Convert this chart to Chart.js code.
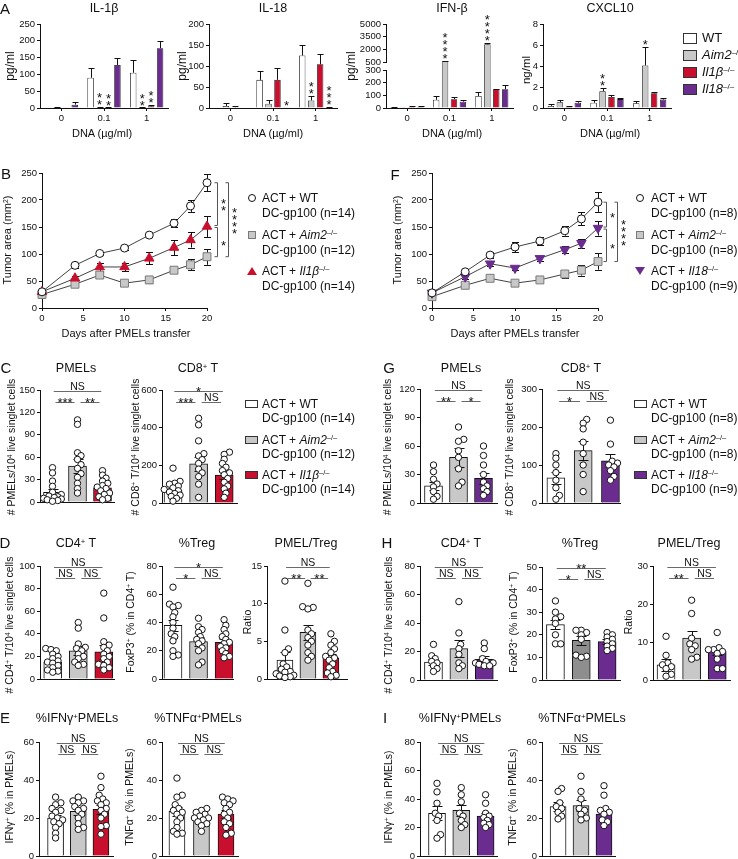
<!DOCTYPE html>
<html lang="en">
<head>
<meta charset="UTF-8">
<title>AIM2 / IL-1β / IL-18 figure</title>
<style>
  body { margin: 0; background: #fff; }
  #fig { position: relative; width: 738px; height: 859px; overflow: hidden;
         font-family: 'Liberation Sans', Arial, sans-serif; color: #111; }
  #fig canvas { position: absolute; }
  .t { position: absolute; white-space: nowrap; transform: translate(-50%, -50%); line-height: 1; }
  .v { position: absolute; white-space: nowrap; transform: translate(-50%, -50%) rotate(-90deg); line-height: 1; font-size: 10.5px; }
  .ttl { font-size: 12.5px; }
  .let { font-size: 15px; }
  .leg { position: absolute; white-space: nowrap; font-size: 12px; line-height: 15px; }
  .sw { position: absolute; box-sizing: border-box; }
  sup { font-size: 0.62em; position: relative; top: -0.45em; line-height: 0; vertical-align: baseline; }
</style>
</head>
<body>
<div id="fig"></div>
<script src="https://cdn.jsdelivr.net/npm/chart.js"></script>
<script>
// ---------- A: cytokines; series order WT, Aim2-/-, Il1b-/-, Il18-/-; groups = DNA dose
const doses = ['0', '0.1', '1'];
const il1bMean = [[0.5, 90, 105], [3, 1, 1], [0.5, 1, 5], [10, 128, 178]];
const il1bErr  = [[0, 28, 38], [1, 1, 0.5], [0, 0.5, 5], [7, 20, 20]];
const il18Mean = [[1, 67, 125], [5, 10, 18], [2, 67, 104], [0, 0.5, 1]];
const il18Err  = [[0, 20, 25], [7, 8, 10], [2, 28, 25], [0, 0, 0.5]];
const ifnbMean = [[2, 65, 95], [5, 600, 2600], [10, 70, 148], [10, 50, 148]];
const ifnbErr  = [[2, 28, 30], [3, 60, 120], [5, 15, 5], [5, 10, 37]];
const cxclMean = [[0.2, 0.5, 0.45], [0.55, 1.6, 4.05], [0.12, 1.05, 1.4], [0.5, 0.85, 0.8]];
const cxclErr  = [[0.15, 0.3, 0.2], [0.2, 0.3, 1.75], [0.08, 0.15, 0.15], [0.2, 0.15, 0.2]];
const ifnbUpperTicks = [500, 2000, 3500, 5000];
// stars: [series, dose, number of asterisks]
const il1bStars = [[1, 1, 2], [2, 1, 2], [1, 2, 2], [2, 2, 2]];
const il18Stars = [[3, 1, 1], [1, 2, 2], [3, 2, 3]];
const ifnbStars = [[1, 1, 4], [1, 2, 4]];
const cxclStars = [[1, 1, 2], [1, 2, 1]];

// ---------- B / F: tumor growth (mm2)
const days = [0, 4, 7, 10, 13, 16, 18, 20];
const bWT = [30, 79, 101, 111, 135, 157, 189, 232];
const bWTe = [4, 4, 3, 3, 4, 7, 11, 16];
const bAim2 = [25, 44, 61, 46, 52, 70, 80, 95];
const bAim2e = [4, 4, 5, 4, 5, 6, 10, 15];
const bIl1b = [30, 55, 76, 76, 92, 112, 126, 151];
const bIl1be = [4, 5, 8, 8, 11, 14, 14, 20];
const fWT = [28, 67, 98, 113, 124, 143, 165, 196];
const fWTe = [4, 6, 5, 10, 7, 9, 12, 18];
const fAim2 = [21, 42, 55, 46, 52, 63, 70, 86];
const fAim2e = [4, 4, 5, 5, 4, 7, 10, 15];
const fIl18 = [28, 58, 82, 74, 92, 108, 120, 148];
const fIl18e = [4, 5, 4, 4, 5, 6, 8, 14];

// ---------- C-E (WT, Aim2-/-, Il1b-/-) and G-I (WT, Aim2-/-, Il18-/-): individual mice
const cPmel = [[46, 39, 28, 21, 13, 10, 8, 7, 6, 5, 4, 3, 2, 1],
               [110, 104, 66, 62, 57, 50, 45, 38, 33, 25, 18, 12],
               [42, 36, 32, 28, 25, 22, 20, 18, 15, 12, 10, 7, 5, 3]];
const cPmelMean = [13, 48, 19], cPmelSem = [5, 9, 4];
const cCd8 = [[185, 115, 105, 100, 90, 80, 72, 65, 58, 50, 42, 35, 25, 10],
              [450, 415, 330, 262, 250, 230, 210, 180, 160, 140, 100, 30],
              [270, 258, 232, 210, 190, 172, 160, 150, 130, 110, 90, 75, 52, 30]];
const cCd8Mean = [68, 208, 148], cCd8Sem = [12, 38, 20];
const gPmel = [[40, 33, 25, 20, 17, 12, 7, 4],
               [80, 67, 65, 55, 48, 36, 22, 18],
               [60, 50, 40, 30, 22, 18, 15, 12, 8]];
const gPmelMean = [18, 48, 26], gPmelSem = [4, 10, 6];
const gCd8 = [[130, 118, 100, 80, 60, 40, 20, 10],
              [220, 210, 195, 160, 130, 100, 75, 30],
              [218, 155, 110, 105, 100, 95, 85, 70, 60]];
const gCd8Mean = [66, 138, 111], gCd8Sem = [15, 25, 17];
const dCd4 = [[27, 26, 25, 22, 20, 18, 16, 15, 14, 12, 10, 8, 7, 6],
              [50, 45, 31, 28, 27, 25, 22, 20, 18, 15, 13, 12],
              [76, 54, 33, 30, 28, 25, 22, 20, 18, 15, 13, 12, 10, 8]];
const dCd4Mean = [15, 25, 24], dCd4Sem = [2, 4, 6];
const dTreg = [[65, 53, 52, 51, 47, 44, 40, 36, 32, 30, 27, 20, 17, 16],
               [43, 37, 35, 33, 30, 28, 27, 25, 22, 20, 12, 10],
               [42, 38, 35, 32, 30, 28, 26, 25, 23, 22, 20, 18, 16, 15]];
const dTregMean = [38, 26.5, 26], dTregSem = [4, 3, 2.5];
const dRatio = [[13, 6.5, 4, 3.5, 2, 1.6, 1.3, 1, 0.9, 0.7, 0.5, 0.4, 0.3, 0.2],
                [12.7, 9.6, 9.5, 9.3, 6.5, 6, 5.5, 5, 4.5, 3.5, 3, 2.5],
                [6, 5, 4.5, 4, 3.5, 3, 2.8, 2.5, 2, 1.5, 1, 0.8, 0.5, 0.3]];
const dRatioMean = [2.5, 6.2, 2.8], dRatioSem = [1.1, 1.0, 0.5];
const hCd4 = [[25, 17, 15, 13, 12, 10, 8, 6],
              [55, 33, 25, 22, 18, 12, 10, 8],
              [26, 22, 15, 13, 12, 12, 11, 10, 10]];
const hCd4Mean = [12.5, 22, 14.5], hCd4Sem = [2, 6, 2];
const hTreg = [[35, 30, 28, 27, 25, 20, 16, 16],
               [22, 22, 21, 20, 18, 11, 10.5, 10],
               [21, 20, 19, 18, 17, 16, 15, 14, 13]];
const hTregMean = [24.5, 17.5, 17], hTregSem = [2, 2, 1];
const hRatio = [[11.5, 6.5, 4.5, 4, 3.5, 3, 1.5, 1],
                [21, 17.5, 11, 9.5, 9, 8, 6, 5.5],
                [12.5, 8.5, 8, 8, 7.5, 7, 5.5, 3, 3]];
const hRatioMean = [4, 11, 7.5], hRatioSem = [1.5, 2, 1];
const eIfng = [[31, 28, 27, 25, 24, 23, 21, 20, 19, 18, 17, 15, 12, 9.5],
               [31, 29, 29, 28, 26, 25, 24, 22, 20, 17, 15, 14],
               [42, 36, 32, 30, 29, 28, 27, 25, 24, 22, 20, 16, 15.5, 11.5]];
const eIfngMean = [20, 23.5, 24.5], eIfngSem = [1.8, 2, 2.5];
const eTnfa = [[41, 32, 31, 27, 25, 24, 23, 22, 20, 18, 15, 13, 12, 11.5],
               [25, 24, 23, 22, 21, 20, 20, 19, 18, 17, 16, 13],
               [31, 30, 29, 28, 27, 25, 23, 22, 20, 18, 17, 15, 12, 11]];
const eTnfaMean = [23.5, 19.5, 22], eTnfaSem = [2.5, 1.2, 2];
const iIfng = [[51, 45, 37, 30, 28, 25, 15, 12.5],
               [48, 43, 38, 30, 28, 25, 22, 20],
               [43, 37, 30, 28, 27, 25, 23, 22, 20]];
const iIfngMean = [30, 32, 28], iIfngSem = [5, 4, 2.5];
const iTnfa = [[35.5, 34, 28, 26, 25, 23, 21, 19.5],
               [42, 34, 30, 25, 24, 22, 20, 19],
               [37, 32, 25, 24, 23, 22, 19, 18, 16]];
const iTnfaMean = [26, 26.5, 22], iTnfaSem = [2.5, 3, 2.5];
// significance: [group a, group b, label, row]
const sigC1 = [[0, 2, 'NS', 0], [0, 1, '***', 1], [1, 2, '**', 1]];
const sigC2 = [[0, 2, '*', 0], [0, 1, '***', 1], [1, 2, 'NS', 1]];
const sigG1 = [[0, 2, 'NS', 0], [0, 1, '**', 1], [1, 2, '*', 1]];
const sigG2 = [[0, 2, 'NS', 0], [0, 1, '*', 1], [1, 2, 'NS', 1]];
const sigNS = [[0, 2, 'NS', 0], [0, 1, 'NS', 1], [1, 2, 'NS', 1]];
const sigDTreg = [[0, 2, '*', 0], [0, 1, '*', 1], [1, 2, 'NS', 1]];
const sigDRatio = [[0, 2, 'NS', 0], [0, 1, '**', 1], [1, 2, '**', 1]];
const sigHTreg = [[0, 2, '**', 0], [0, 1, '*', 1], [1, 2, 'NS', 1]];
const sigHRatio = [[0, 2, 'NS', 0], [0, 1, '**', 1], [1, 2, 'NS', 1]];

// ---------- colours
const WHITE = '#ffffff', GRAY = '#c8c8c8', DGRAY = '#8e8e8e', RED = '#c8102e', PURPLE = '#6a2c8f';
const cytoCols = [WHITE, GRAY, RED, PURPLE];
const FONT = "'Liberation Sans', Arial, sans-serif";

Chart.defaults.font.family = FONT;
Chart.defaults.color = '#111';

const fig = document.getElementById('fig');
const PADL = 36, PADT = 36, PADB = 30, YW = 30;

// canvas placed so that its chart area is exactly (L, T, W, H) on the page
function mk(L, T, W, H, cfg, xh, padR) {
  const PADR = padR || 14;
  const cv = document.createElement('canvas');
  const cw = W + PADL + PADR, ch = H + PADT + PADB;
  cv.width = cw; cv.height = ch;
  cv.style.cssText = `left:${L - PADL}px;top:${T - PADT}px;width:${cw}px;height:${ch}px`;
  fig.appendChild(cv);
  const o = cfg.options;
  o.responsive = false; o.animation = false; o.devicePixelRatio = 1;
  o.layout = { padding: { left: PADL - YW, top: PADT, right: PADR, bottom: PADB - xh } };
  o.scales.y.afterFit = s => { s.width = YW; };
  o.scales.x.afterFit = s => { s.height = xh; };
  o.plugins = { legend: { display: false }, tooltip: { enabled: false } };
  return new Chart(cv, cfg);
}

function yAxis(min, max, step, ticks) {
  const y = { min, max,
    ticks: { stepSize: step, font: { size: 9.5 }, color: '#111', padding: 2, autoSkip: false, callback: v => String(v) },
    grid: { drawOnChartArea: false, drawTicks: true, tickLength: 3, color: '#111' },
    border: { display: true, color: '#111' } };
  if (ticks) y.afterBuildTicks = s => { s.ticks = ticks.map(v => ({ value: v })); };
  return y;
}

function errPlugin(specs, when) {
  function draw(chart, only) {
    const ctx = chart.ctx, ys = chart.scales.y, area = chart.chartArea;
    ctx.save();
    ctx.strokeStyle = '#111'; ctx.lineWidth = 1;
    specs.forEach(sp => {
      if (only != null && sp.ds !== only) return;
      const meta = chart.getDatasetMeta(sp.ds);
      const data = chart.data.datasets[sp.ds].data;
      meta.data.forEach((el, i) => {
        const e = sp.err[i];
        if (!e) return;
        const v = typeof data[i] === 'object' ? data[i].y : data[i];
        if (v + e < ys.min || v + e > ys.max) return;
        const x = Math.round(el.x) + 0.5;
        const yt = Math.round(ys.getPixelForValue(v + e)) + 0.5;
        const yb = Math.min(ys.getPixelForValue(sp.up ? v : v - e), area.bottom);
        const h = sp.cap / 2;
        ctx.beginPath();
        ctx.moveTo(x, yb); ctx.lineTo(x, yt);
        ctx.moveTo(x - h, yt); ctx.lineTo(x + h, yt);
        if (!sp.up) { const y2 = Math.round(yb) + 0.5; ctx.moveTo(x - h, y2); ctx.lineTo(x + h, y2); }
        ctx.stroke();
      });
    });
    ctx.restore();
  }
  if (when === 'before') return { id: 'errB', beforeDatasetsDraw: c => draw(c) };
  if (when === 'bar0') return { id: 'errD', afterDatasetDraw: (c, a) => { if (a.index === 0) draw(c, 0); } };
  return { id: 'errA', afterDatasetsDraw: c => draw(c) };
}

// stacked asterisks above a bar
function starPlugin(list, errs) {
  return { id: 'stars', afterDatasetsDraw(chart) {
    const ctx = chart.ctx, ys = chart.scales.y;
    ctx.save(); ctx.fillStyle = '#111'; ctx.font = '13px ' + FONT;
    ctx.textAlign = 'center'; ctx.textBaseline = 'alphabetic';
    list.forEach(([g, d, n]) => {
      const el = chart.getDatasetMeta(g).data[d];
      const v = chart.data.datasets[g].data[d] + (errs[g][d] || 0);
      const y = Math.min(ys.getPixelForValue(v), chart.chartArea.bottom) - 2;
      for (let k = 0; k < n; k++) {
        const cy = y - 3.5 - k * 7;
        ctx.fillText('*', el.x, cy + 0.58 * 13);
      }
    });
    ctx.restore();
  }};
}

// NS / asterisk comparison lines above dot plots
function sigPlugin(list) {
  return { id: 'sig', afterDraw(chart) {
    const ctx = chart.ctx, top = chart.chartArea.top;
    const bars = chart.getDatasetMeta(0).data;
    ctx.save();
    list.forEach(([a, b, txt, row]) => {
      const pa = bars[a].x, pb = bars[b].x;
      const s = (pb - pa) / (b - a);
      let x1, x2;
      if (row === 0) { x1 = pa + 0.05 * s; x2 = pb - 0.05 * s; }
      else { const m = (pa + pb) / 2; x1 = m - 0.38 * s; x2 = m + 0.38 * s; }
      const y = Math.round(top + (row === 0 ? 1 : 12)) + 0.5;
      ctx.strokeStyle = '#6a6a6a'; ctx.lineWidth = 1;
      ctx.beginPath(); ctx.moveTo(x1, y); ctx.lineTo(x2, y); ctx.stroke();
      ctx.fillStyle = '#111'; ctx.textAlign = 'center'; ctx.textBaseline = 'alphabetic';
      if (txt === 'NS') { ctx.font = '10.5px ' + FONT; ctx.fillText(txt, (x1 + x2) / 2, y - 2); }
      else { ctx.font = '13px ' + FONT; ctx.fillText(txt, (x1 + x2) / 2, y + 4.5); }
    });
    ctx.restore();
  }};
}

// "]" brackets right of growth curves
function bracketPlugin(list) {
  return { id: 'brk', afterDraw(chart) {
    const ctx = chart.ctx, ys = chart.scales.y, R = chart.chartArea.right;
    ctx.save(); ctx.strokeStyle = '#555'; ctx.lineWidth = 1; ctx.fillStyle = '#111';
    ctx.font = '13px ' + FONT; ctx.textAlign = 'center'; ctx.textBaseline = 'alphabetic';
    list.forEach(b => {
      const x = Math.round(R + b.off) + 0.5;
      const y1 = ys.getPixelForValue(b.a) + (b.da || 0), y2 = ys.getPixelForValue(b.b) + (b.db || 0);
      ctx.beginPath(); ctx.moveTo(x - 3, y1); ctx.lineTo(x, y1); ctx.lineTo(x, y2); ctx.lineTo(x - 3, y2); ctx.stroke();
      const mid = (y1 + y2) / 2;
      for (let k = 0; k < b.n; k++) {
        const cy = mid + (k - (b.n - 1) / 2) * 7;
        ctx.fillText('*', x + 6, cy + 0.58 * 13);
      }
    });
    ctx.restore();
  }};
}

// deterministic beeswarm: spread points sideways, allowing some overlap, within the bar
function swarm(vals, ci, pxY, pxX, r, maxOff) {
  const placed = [], out = new Array(vals.length);
  const order = vals.map((v, i) => i).sort((a, b) => vals[a] - vals[b]);
  const cands = [0];
  for (let k = 1; k * r * 0.55 <= maxOff; k++) cands.push(k * r * 0.55, -k * r * 0.55);
  for (const i of order) {
    const py = vals[i] * pxY;
    let off = null, bestD = -1, bestO = 0;
    for (const o of cands) {
      const d = placed.reduce((m, p) => Math.min(m, Math.hypot(p.x - o, p.y - py)), 1e9);
      if (d >= 1.4 * r) { off = o; break; }
      if (d > bestD) { bestD = d; bestO = o; }
    }
    if (off === null) off = bestO;
    placed.push({ x: off, y: py });
    out[i] = { x: ci + off / pxX, y: vals[i] };
  }
  return out;
}

function cytoChart(L, T, W, H, means, errs, y, opt) {
  opt = opt || {};
  const datasets = means.map((m, k) => ({
    data: m, backgroundColor: cytoCols[k], borderColor: '#111', borderWidth: 0.8,
    categoryPercentage: 0.84, barPercentage: 0.72,
    clip: (opt.clipTop && k === 1) ? { left: 0, top: opt.clipTop, right: 0, bottom: 0 } : undefined
  }));
  const errSpecs = means.map((m, k) => ({ ds: k, err: (opt.errSkip && opt.errSkip.includes(k)) ? [] : errs[k], cap: 6, up: true }));
  const plugins = [errPlugin(errSpecs, 'after')];
  if (opt.stars) plugins.push(starPlugin(opt.stars, errs));
  const cfg = { type: 'bar', data: { labels: doses, datasets }, options: { scales: {
    x: { type: 'category', offset: true, display: opt.noX ? false : true,
         ticks: { font: { size: 9.5 }, color: '#111', padding: 2, maxRotation: 0 },
         grid: { offset: false, drawOnChartArea: false, drawTicks: true, tickLength: 3, color: '#111' },
         border: { display: true, color: '#111' } },
    y: y } }, plugins };
  return mk(L, T, W, H, cfg, opt.noX ? 0 : 16);
}

function growthChart(L, T, W, H, sets, brackets) {
  const datasets = sets.map(s => ({
    type: 'line', data: days.map((d, i) => ({ x: d, y: s.v[i] })),
    borderColor: '#111', borderWidth: 0.8, fill: false, tension: 0, clip: false,
    pointStyle: s.ps, pointRadius: s.r, pointRotation: s.rot || 0,
    pointBackgroundColor: s.fill, pointBorderColor: s.edge, pointBorderWidth: 1
  }));
  const errSpecs = sets.map((s, k) => ({ ds: k, err: s.e, cap: 7 }));
  const cfg = { type: 'line', data: { datasets }, options: { scales: {
    x: { type: 'linear', min: 0, max: 20,
         ticks: { stepSize: 5, font: { size: 9.5 }, color: '#111', padding: 2, maxRotation: 0 },
         grid: { drawOnChartArea: false, drawTicks: true, tickLength: 3, color: '#111' },
         border: { display: true, color: '#111' } },
    y: yAxis(0, 250, 50) } },
    plugins: [errPlugin(errSpecs, 'before'), bracketPlugin(brackets)] };
  return mk(L, T, W, H, cfg, 16, 40);
}

function dotPlot(o) {
  const pxY = o.H / o.ymax, pxX = o.W / (o.xr[1] - o.xr[0]);
  const bw = o.bar || 18;
  const pts = [];
  o.groups.forEach((g, i) => pts.push(...swarm(g, i, pxY, pxX, 3.2, bw / 2 + 1)));
  const cfg = { type: 'bar', data: { datasets: [
      { type: 'bar', data: o.mean.map((m, i) => ({ x: i, y: m })), backgroundColor: o.colors,
        borderColor: '#111', borderWidth: 1, barThickness: bw, order: 2 },
      { type: 'scatter', data: pts, pointRadius: 3.2, pointBackgroundColor: '#fff',
        pointBorderColor: '#111', pointBorderWidth: 1, clip: false, order: 1 }
    ] },
    options: { scales: {
      x: { type: 'linear', offset: false, min: o.xr[0], max: o.xr[1], ticks: { display: false },
           grid: { display: false }, border: { display: true, color: '#111' } },
      y: yAxis(0, o.ymax, o.step) } },
    plugins: [errPlugin([{ ds: 0, err: o.sem, cap: 10 }], 'bar0'), sigPlugin(o.sig)] };
  return mk(o.L, o.T, o.W, o.H, cfg, 0);
}

// ---------- A
cytoChart(40, 24, 128, 84, il1bMean, il1bErr, yAxis(0, 250, 50), { stars: il1bStars });
cytoChart(209, 24, 128, 84, il18Mean, il18Err, yAxis(0, 200, 50), { stars: il18Stars });
cytoChart(386, 24, 127, 38, ifnbMean, ifnbErr, yAxis(500, 5000, 1500, ifnbUpperTicks), { noX: true, errSkip: [0, 2, 3], stars: ifnbStars });
cytoChart(386, 70, 127, 38, ifnbMean, ifnbErr, yAxis(0, 300, 100), { errSkip: [1], clipTop: 8 });
cytoChart(543, 24, 128, 84, cxclMean, cxclErr, yAxis(0, 8, 2), { stars: cxclStars });

// ---------- B / F
const circ = { ps: 'circle', r: 4, fill: '#fff', edge: '#111' };
const sq = { ps: 'rect', r: 5.6, fill: GRAY, edge: '#7a7a7a' };
growthChart(42, 173, 165, 135, [
  Object.assign({ v: bWT, e: bWTe }, circ),
  { v: bIl1b, e: bIl1be, ps: 'triangle', r: 5.5, fill: RED, edge: RED },
  Object.assign({ v: bAim2, e: bAim2e }, sq)
], [
  { a: bWT[7], b: bIl1b[7], off: 10, n: 2, db: -1 },
  { a: bIl1b[7], b: bAim2[7], off: 10, n: 1, da: 1 },
  { a: bWT[7], b: bAim2[7], off: 21, n: 4 }
]);
growthChart(432, 173, 166, 135, [
  Object.assign({ v: fWT, e: fWTe }, circ),
  { v: fIl18, e: fIl18e, ps: 'triangle', r: 5.5, rot: 180, fill: PURPLE, edge: PURPLE },
  Object.assign({ v: fAim2, e: fAim2e }, sq)
], [
  { a: fWT[7], b: fIl18[7], off: 8, n: 1, db: -1 },
  { a: fIl18[7], b: fAim2[7], off: 8, n: 1, da: 1 },
  { a: fWT[7], b: fAim2[7], off: 19, n: 4 }
]);

// ---------- C-E
const colsB = [WHITE, GRAY, RED], colsG = [WHITE, GRAY, PURPLE];
dotPlot({ L: 40, T: 390, W: 74, H: 112, xr: [-0.5, 2.46], ymax: 150, step: 30, groups: cPmel, mean: cPmelMean, sem: cPmelSem, colors: colsB, sig: sigC1 });
dotPlot({ L: 162, T: 390, W: 75, H: 113, xr: [-0.43, 2.5], ymax: 600, step: 200, groups: cCd8, mean: cCd8Mean, sem: cCd8Sem, colors: colsB, sig: sigC2 });
dotPlot({ L: 40, T: 566, W: 74, H: 113, xr: [-0.5, 2.4], ymax: 100, step: 20, groups: dCd4, mean: dCd4Mean, sem: dCd4Sem, colors: colsB, sig: sigNS });
dotPlot({ L: 162, T: 566, W: 71, H: 113, xr: [-0.43, 2.35], ymax: 80, step: 20, groups: dTreg, mean: dTregMean, sem: dTregSem, colors: colsB, sig: sigDTreg });
dotPlot({ L: 267, T: 566, W: 80, H: 113, xr: [-0.78, 2.7], ymax: 15, step: 5, groups: dRatio, mean: dRatioMean, sem: dRatioSem, colors: colsB, sig: sigDRatio, bar: 16 });
dotPlot({ L: 39, T: 742, W: 74, H: 114, xr: [-0.73, 2.53], ymax: 60, step: 20, groups: eIfng, mean: eIfngMean, sem: eIfngSem, colors: colsB, sig: sigNS, bar: 16 });
dotPlot({ L: 162, T: 742, W: 76, H: 114, xr: [-0.61, 2.49], ymax: 60, step: 20, groups: eTnfa, mean: eTnfaMean, sem: eTnfaSem, colors: colsB, sig: sigNS, bar: 16 });
// ---------- G-I
dotPlot({ L: 420, T: 389, W: 77, H: 114, xr: [-0.54, 2.54], ymax: 120, step: 30, groups: gPmel, mean: gPmelMean, sem: gPmelSem, colors: colsG, sig: sigG1 });
dotPlot({ L: 542, T: 389, W: 78, H: 114, xr: [-0.51, 2.35], ymax: 300, step: 100, groups: gCd8, mean: gCd8Mean, sem: gCd8Sem, colors: colsG, sig: sigG2 });
dotPlot({ L: 420, T: 566, W: 77, H: 114, xr: [-0.53, 2.5], ymax: 80, step: 20, groups: hCd4, mean: hCd4Mean, sem: hCd4Sem, colors: colsG, sig: sigNS });
dotPlot({ L: 542, T: 567, W: 78, H: 113, xr: [-0.52, 2.5], ymax: 50, step: 10, groups: hTreg, mean: hTregMean, sem: hTregSem, colors: [WHITE, DGRAY, PURPLE], sig: sigHTreg });
dotPlot({ L: 653, T: 566, W: 77, H: 114, xr: [-0.51, 2.5], ymax: 30, step: 10, groups: hRatio, mean: hRatioMean, sem: hRatioSem, colors: colsG, sig: sigHRatio });
dotPlot({ L: 420, T: 742, W: 77, H: 114, xr: [-0.7, 2.47], ymax: 80, step: 20, groups: iIfng, mean: iIfngMean, sem: iIfngSem, colors: colsG, sig: sigNS, bar: 17 });
dotPlot({ L: 542, T: 742, W: 73, H: 114, xr: [-0.7, 2.48], ymax: 60, step: 20, groups: iTnfa, mean: iTnfaMean, sem: iTnfaSem, colors: colsG, sig: sigNS, bar: 16 });

// ---------- text
function put(x, y, html, cls, css) {
  const d = document.createElement('div');
  d.className = 't ' + (cls || '');
  d.innerHTML = html;
  d.style.left = x + 'px'; d.style.top = y + 'px';
  if (css) d.style.cssText += css;
  fig.appendChild(d);
}
function vput(x, y, html, size) {
  const d = document.createElement('div');
  d.className = 'v'; d.innerHTML = html;
  d.style.left = x + 'px'; d.style.top = y + 'px';
  if (size) d.style.fontSize = size + 'px';
  fig.appendChild(d);
}
function box(x, y, w, h, fill, edge, extra) {
  const d = document.createElement('div');
  d.className = 'sw';
  d.style.cssText += `left:${x}px;top:${y}px;width:${w}px;height:${h}px;background:${fill};border:1px solid ${edge};` + (extra || '');
  fig.appendChild(d);
}
function legText(x, yTop, html, size, lh) {
  const d = document.createElement('div');
  d.className = 'leg'; d.innerHTML = html;
  d.style.left = x + 'px'; d.style.top = yTop + 'px';
  if (size) d.style.fontSize = size + 'px';
  if (lh) d.style.lineHeight = lh + 'px';
  fig.appendChild(d);
}
const ko = g => `<i>${g}</i><sup>–/–</sup>`;

// panel letters
[['A', 5, 8], ['B', 6, 173], ['C', 6, 367], ['D', 5, 542], ['E', 5, 717],
 ['F', 395, 174], ['G', 389, 367], ['H', 387, 542], ['I', 385, 717]].forEach(([t, x, y]) => put(x, y, t, 'let'));

// A
put(104, 8, 'IL-1β', 'ttl'); put(273, 8, 'IL-18', 'ttl'); put(452, 8, 'IFN-β', 'ttl'); put(610, 8, 'CXCL10', 'ttl');
vput(10, 66, 'pg/ml', 12); vput(182, 66, 'pg/ml', 12); vput(351, 66, 'pg/ml', 12); vput(527, 70, 'ng/ml', 11.5);
[102, 273, 452, 610].forEach(x => put(x, 133, 'DNA (µg/ml)', '', 'font-size:11px'));
const aLeg = [[WHITE, 'WT'], [GRAY, ko('Aim2')], [RED, ko('Il1β')], [PURPLE, ko('Il18')]];
aLeg.forEach(([c, t], i) => {
  const y = 38 + i * 17;
  box(683, y - 5.5, 14, 11, c, '#333');
  legText(702, y - 8, t, 13, 16);
});

// B / F
vput(7, 240, 'Tumor area (mm<sup>2</sup>)', 11); vput(397, 240, 'Tumor area (mm<sup>2</sup>)', 11);
put(126, 333, 'Days after PMELs transfer', '', 'font-size:11px');
put(515, 333, 'Days after PMELs transfer', '', 'font-size:11px');
function growthLegend(mx, tx, third, n) {
  const ys = [198, 235, 271];
  box(mx - 4, ys[0] - 4, 8, 8, '#fff', '#111', 'border-radius:50%;');
  box(mx - 4, ys[1] - 4, 8, 8, GRAY, '#7a7a7a');
  const tri = document.createElement('div');
  tri.className = 'sw';
  const col = third === 'Il1β' ? RED : PURPLE;
  const dir = third === 'Il1β' ? 'border-bottom' : 'border-top';
  tri.style.cssText += `left:${mx - 5}px;top:${ys[2] - 4}px;width:0;height:0;border-left:5px solid transparent;border-right:5px solid transparent;${dir}:8px solid ${col};`;
  fig.appendChild(tri);
  legText(tx, ys[0] - 7.5, `ACT + WT<br>DC-gp100 (n=${n[0]})`);
  legText(tx, ys[1] - 7.5, `ACT + ${ko('Aim2')}<br>DC-gp100 (n=${n[1]})`);
  legText(tx, ys[2] - 7.5, `ACT + ${ko(third)}<br>DC-gp100 (n=${n[2]})`);
}
growthLegend(252, 262, 'Il1β', [14, 12, 14]);
growthLegend(640, 651, 'Il18', [8, 8, 9]);

// C / G
put(76, 368, 'PMELs', 'ttl'); put(198, 368, 'CD8<sup>+</sup> T', 'ttl');
put(461, 368, 'PMELs', 'ttl'); put(581, 368, 'CD8<sup>+</sup> T', 'ttl');
vput(11, 447, '# PMELs/10<sup>4</sup> live singlet cells');
vput(135, 447, '# CD8<sup>+</sup> T/10<sup>4</sup> live singlet cells');
vput(387, 447, '# PMELs/10<sup>4</sup> live singlet cells');
vput(509, 447, '# CD8<sup>+</sup> T/10<sup>4</sup> live singlet cells');
function dotLegend(bx, tx, third, col, n) {
  const ys = [404, 440, 475];
  [WHITE, GRAY, col].forEach((c, i) => box(bx, ys[i] - 4, 13, 8, c, '#333'));
  legText(tx, ys[0] - 7.5, `ACT + WT<br>DC-gp100 (n=${n[0]})`, null, 14.5);
  legText(tx, ys[1] - 7.5, `ACT + ${ko('Aim2')}<br>DC-gp100 (n=${n[1]})`, null, 14.5);
  legText(tx, ys[2] - 7.5, `ACT + ${ko(third)}<br>DC-gp100 (n=${n[2]})`, null, 14.5);
}
dotLegend(245, 262, 'Il1β', RED, [14, 12, 14]);
dotLegend(634, 651, 'Il18', PURPLE, [8, 8, 9]);

// D / H
put(76, 543, 'CD4<sup>+</sup> T', 'ttl'); put(197, 543, '%Treg', 'ttl'); put(306, 543, 'PMEL/Treg', 'ttl');
put(461, 543, 'CD4<sup>+</sup> T', 'ttl'); put(580, 543, '%Treg', 'ttl'); put(689, 543, 'PMEL/Treg', 'ttl');
vput(9, 625, '# CD4<sup>+</sup> T/10<sup>4</sup> live singlet cells');
vput(130, 622, 'FoxP3<sup>+</sup> (% in CD4<sup>+</sup> T)');
vput(247, 622, 'Ratio');
vput(388, 625, '# CD4<sup>+</sup> T/10<sup>4</sup> live singlet cells');
vput(513, 622, 'FoxP3<sup>+</sup> (% in CD4<sup>+</sup> T)');
vput(628, 622, 'Ratio');

// E / I
put(77, 718, '%IFNγ<sup>+</sup>PMELs', 'ttl'); put(198, 718, '%TNFα<sup>+</sup>PMELs', 'ttl');
put(460, 718, '%IFNγ<sup>+</sup>PMELs', 'ttl'); put(582, 718, '%TNFα<sup>+</sup>PMELs', 'ttl');
vput(9, 797, 'IFNγ<sup>+</sup> (% in PMELs)'); vput(129, 797, 'TNFα<sup>+</sup> (% in PMELs)');
vput(388, 797, 'IFNγ<sup>+</sup> (% in PMELs)'); vput(512, 797, 'TNFα<sup>+</sup> (% in PMELs)');
</script>
</body>
</html>
